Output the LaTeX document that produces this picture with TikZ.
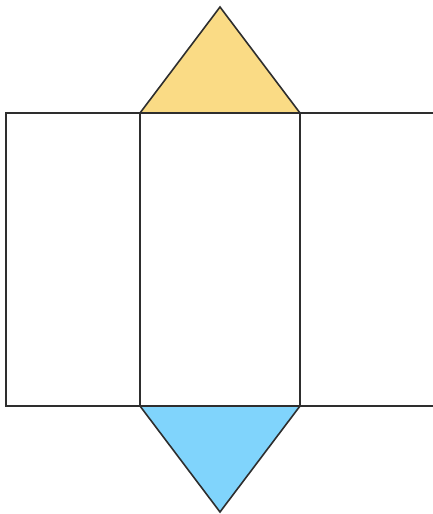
\documentclass[tikz,border=0pt]{standalone}
\usepackage{tikz}
\definecolor{topface}{HTML}{FADB85}
\definecolor{botface}{HTML}{80D4FC}
\definecolor{edge}{HTML}{2E2E2E}
\begin{document}
\begin{tikzpicture}[x=1pt,y=-1pt,line width=1.6pt,line join=miter]
                    \useasboundingbox (0,0) rectangle (433,514);
                    \fill[topface] (140,113) -- (220,7) -- (300,113) -- cycle;
                    \fill[botface] (140,406) -- (220,512) -- (300,406) -- cycle;
                    \draw[edge] (140,113) -- (220,7) -- (300,113);
                    \draw[edge] (140,406) -- (220,512) -- (300,406);
                    \draw[edge] (6,113) rectangle (140,406);
                    \draw[edge] (140,113) rectangle (300,406);
                    \draw[edge] (433,113) -- (300,113) -- (300,406) -- (433,406);
                \end{tikzpicture}
\end{document}
